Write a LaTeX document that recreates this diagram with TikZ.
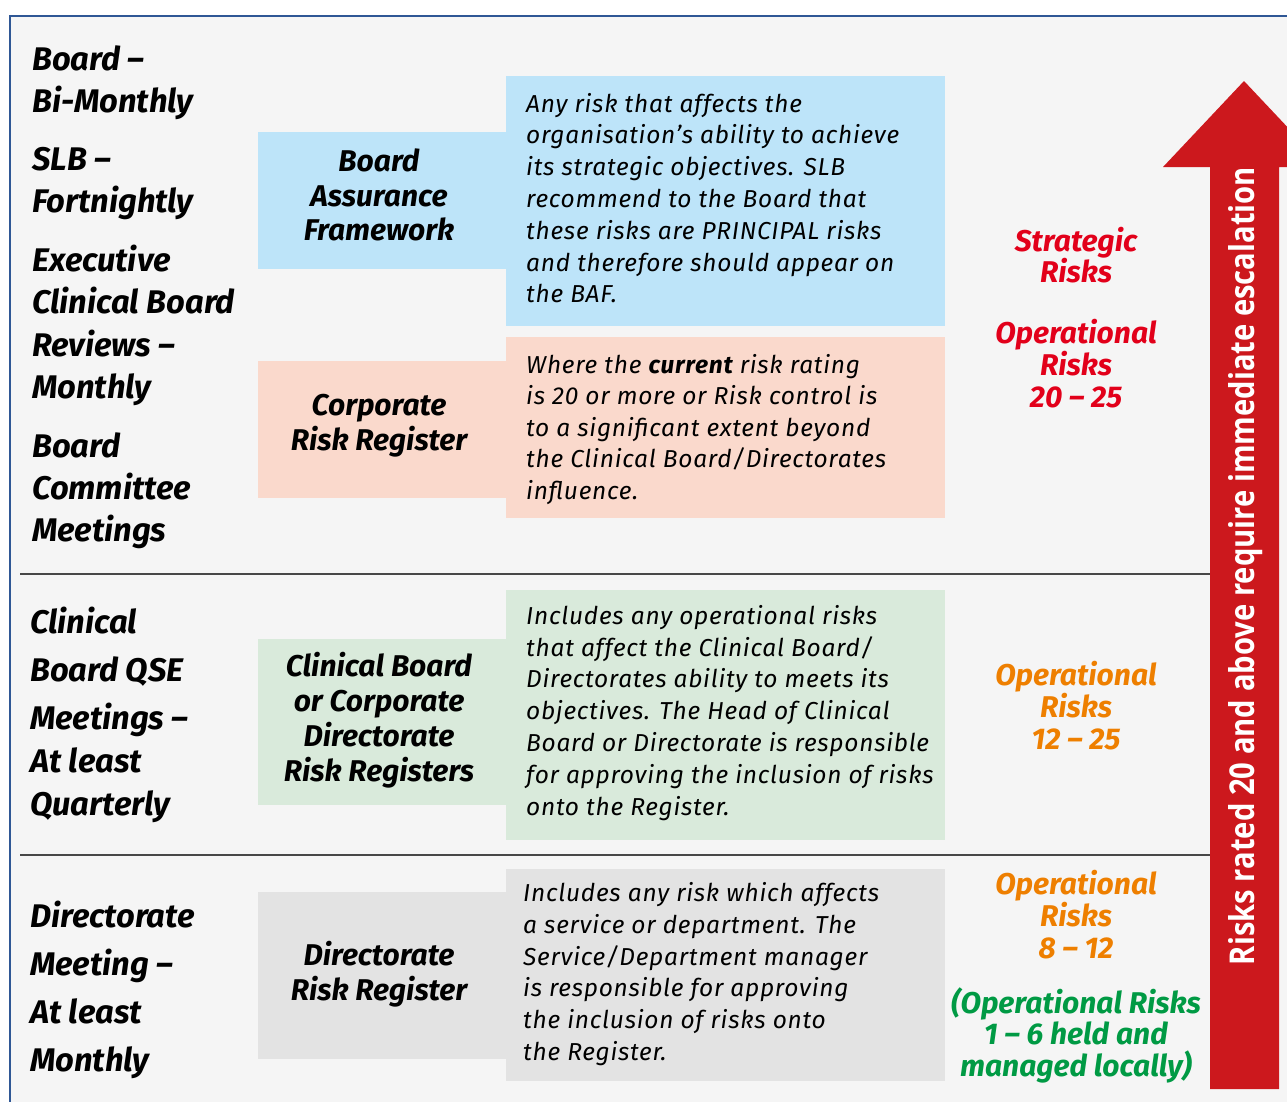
\documentclass[tikz,border=0pt]{standalone}
\usepackage{fontspec}
\setmainfont{Fira Sans}
\newfontfamily\descfont[LetterSpace=3]{Fira Sans}
\newfontfamily\arrowfont{Open Sans}
\definecolor{bgc}{HTML}{F5F5F5}
\definecolor{framec}{HTML}{2F5795}
\definecolor{divc}{HTML}{474747}
\definecolor{bluec}{HTML}{BDE4F9}
\definecolor{peachc}{HTML}{FAD9CC}
\definecolor{greenc}{HTML}{D9EADB}
\definecolor{grayc}{HTML}{E3E3E3}
\definecolor{arrowc}{HTML}{CC181D}
\definecolor{redt}{HTML}{E2001A}
\definecolor{oranget}{HTML}{EE7F00}
\definecolor{greent}{HTML}{009A44}
\begin{document}
\begin{tikzpicture}[x=1pt,y=-1pt,
  lefttxt/.style={anchor=base west,inner sep=0pt,font=\fontsize{32.7}{40}\selectfont\bfseries\itshape},
  desc/.style={anchor=base west,inner sep=0pt,font=\descfont\fontsize{24.5}{32}\selectfont\itshape},
  lab/.style={anchor=base,inner sep=0pt,font=\fontsize{30}{35}\selectfont\bfseries\itshape},
  rt/.style={anchor=base,inner sep=0pt,font=\fontsize{30}{32}\selectfont\bfseries\itshape},
  boxn/.style={anchor=north west,inner sep=0pt,draw=none}]
\useasboundingbox (0,0) rectangle (1287,1101);
\clip (0,0) rectangle (1287,1101);
\fill[white] (0,0) rectangle (1287,1101);
\filldraw[fill=bgc,draw=framec,line width=2.5pt] (10,16) rectangle (1320,1130);
% dividers
\draw[divc,line width=2.5pt] (20,574) -- (1210,574);
\draw[divc,line width=2.5pt] (20,855) -- (1210,855);
% arrow
\fill[arrowc] (1244,81) -- (1325,167) -- (1279,167) -- (1279,1089) -- (1210,1089) -- (1210,167) -- (1163,167) -- cycle;
\node[rotate=90,anchor=base,inner sep=0pt,text=white] (arrowtxt) at (1254,566)
  {\resizebox{798pt}{26pt}{\arrowfont\bfseries Risks rated 20 and above require immediate escalation}};
% left column
\node[lefttxt] (l1) at (32,70) {Board –};
\node[lefttxt] (l2) at (32,112) {Bi-Monthly};
\node[lefttxt] (l3) at (32,170) {SLB –};
\node[lefttxt] (l4) at (32,212) {Fortnightly};
\node[lefttxt] (l5) at (32,271) {Executive};
\node[lefttxt] (l6) at (32,313) {Clinical Board};
\node[lefttxt] (l7) at (32,356) {Reviews –};
\node[lefttxt] (l8) at (32,398) {Monthly};
\node[lefttxt] (l9) at (32,457) {Board};
\node[lefttxt] (l10) at (32,499) {Committee};
\node[lefttxt] (l11) at (32,541) {Meetings};
\node[lefttxt] (m1) at (30,633) {Clinical};
\node[lefttxt] (m2) at (30,681) {Board QSE};
\node[lefttxt] (m3) at (30,729) {Meetings –};
\node[lefttxt] (m4) at (30,772) {At least};
\node[lefttxt] (m5) at (30,815) {Quarterly};
\node[lefttxt] (b1) at (30,927) {Directorate};
\node[lefttxt] (b2) at (30,975) {Meeting –};
\node[lefttxt] (b3) at (30,1023) {At least};
\node[lefttxt] (b4) at (30,1071) {Monthly};
% label boxes
\node[boxn,fill=bluec,minimum width=248pt,minimum height=137pt] (baf) at (258,132) {};
\node[boxn,fill=peachc,minimum width=248pt,minimum height=137pt] (crr) at (258,361) {};
\node[boxn,fill=greenc,minimum width=248pt,minimum height=166pt] (cbr) at (258,639) {};
\node[boxn,fill=grayc,minimum width=248pt,minimum height=167pt] (drr) at (258,892) {};
% description boxes
\node[boxn,fill=bluec,minimum width=439pt,minimum height=250pt] (bafd) at (506,76) {};
\node[boxn,fill=peachc,minimum width=439pt,minimum height=181pt] (crrd) at (506,337) {};
\node[boxn,fill=greenc,minimum width=439pt,minimum height=250pt] (cbrd) at (506,590) {};
\node[boxn,fill=grayc,minimum width=439pt,minimum height=212pt] (drrd) at (506,869) {};
% label texts
\node[lab] (baf1) at (379,171) {Board};
\node[lab] (baf2) at (379,206) {Assurance};
\node[lab] (baf3) at (379,240) {Framework};
\node[lab] (crr1) at (379,415) {Corporate};
\node[lab] (crr2) at (379,450) {Risk Register};
\node[lab] (cbr1) at (379,676) {Clinical Board};
\node[lab] (cbr2) at (379,711) {or Corporate};
\node[lab] (cbr3) at (379,746) {Directorate};
\node[lab] (cbr4) at (379,781) {Risk Registers};
\node[lab] (drr1) at (379,965) {Directorate};
\node[lab] (drr2) at (379,1000) {Risk Register};
% description texts
\node[desc] (bd1) at (526,112) {Any risk that affects the};
\node[desc] (bd2) at (526,143.8) {organisation’s ability to achieve};
\node[desc] (bd3) at (526,175.6) {its strategic objectives. SLB};
\node[desc] (bd4) at (526,207.4) {recommend to the Board that};
\node[desc] (bd5) at (526,239.2) {these risks are PRINCIPAL risks};
\node[desc] (bd6) at (526,271) {and therefore should appear on};
\node[desc] (bd7) at (526,302.8) {the BAF.};
\node[desc] (cd1) at (526,373) {Where the \textbf{current} risk rating};
\node[desc] (cd2) at (526,404.6) {is 20 or more or Risk control is};
\node[desc] (cd3) at (526,436.2) {to a significant extent beyond};
\node[desc] (cd4) at (526,467.8) {the Clinical Board/Directorates};
\node[desc] (cd5) at (526,499.4) {influence.};
\node[desc] (gd1) at (526,624.3) {Includes any operational risks};
\node[desc] (gd2) at (526,656.1) {that affect the Clinical Board/};
\node[desc] (gd3) at (526,687.9) {Directorates ability to meets its};
\node[desc] (gd4) at (526,719.7) {objectives. The Head of Clinical};
\node[desc] (gd5) at (526,751.5) {Board or Directorate is responsible};
\node[desc] (gd6) at (526,783.3) {for approving the inclusion of risks};
\node[desc] (gd7) at (526,815.1) {onto the Register.};
\node[desc] (dd1) at (523,901.7) {Includes any risk which affects};
\node[desc] (dd2) at (523,933.4) {a service or department. The};
\node[desc] (dd3) at (523,965.1) {Service/Department manager};
\node[desc] (dd4) at (523,996.8) {is responsible for approving};
\node[desc] (dd5) at (523,1028.5) {the inclusion of risks onto};
\node[desc] (dd6) at (523,1060.2) {the Register.};
% right column
\node[rt,text=redt] (r1) at (1076,251) {Strategic};
\node[rt,text=redt] (r2) at (1076,282) {Risks};
\node[rt,text=redt] (r3) at (1076,343) {Operational};
\node[rt,text=redt] (r4) at (1076,375) {Risks};
\node[rt,text=redt] (r5) at (1076,407) {20 – 25};
\node[rt,text=oranget] (o1) at (1076,685) {Operational};
\node[rt,text=oranget] (o2) at (1076,717) {Risks};
\node[rt,text=oranget] (o3) at (1076,749) {12 – 25};
\node[rt,text=oranget] (o4) at (1076,894) {Operational};
\node[rt,text=oranget] (o5) at (1076,926) {Risks};
\node[rt,text=oranget] (o6) at (1076,958) {8 – 12};
\node[rt,text=greent] (g1) at (1076,1013) {(Operational Risks};
\node[rt,text=greent] (g2) at (1076,1044) {1 – 6 held and};
\node[rt,text=greent] (g3) at (1076,1076) {managed locally)};
\end{tikzpicture}
\end{document}
